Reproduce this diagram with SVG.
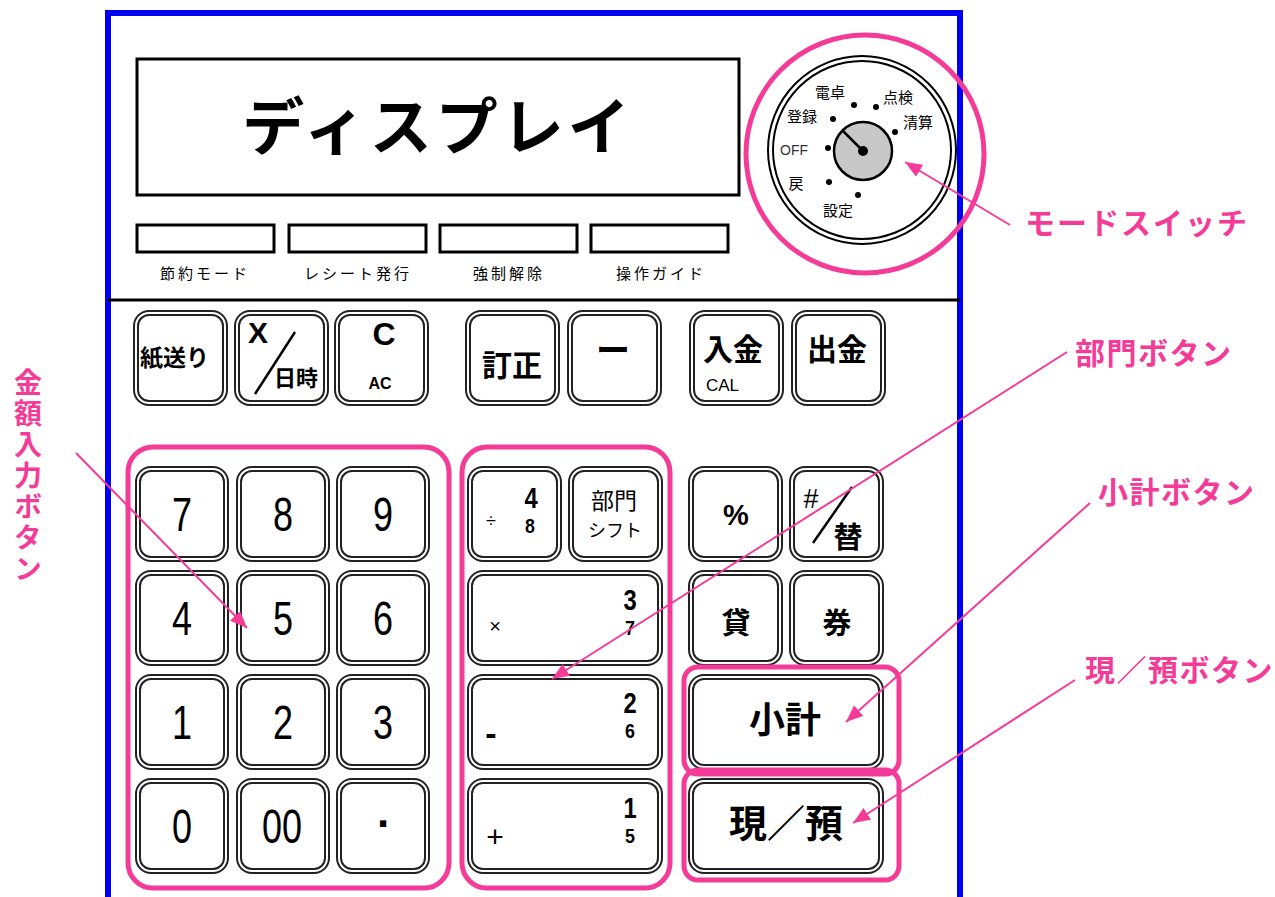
<svg xmlns="http://www.w3.org/2000/svg" width="1275" height="897" viewBox="0 0 1275 897">
<defs>
<style>
.jp{font-family:"Noto Sans CJK JP","Noto Sans",sans-serif}
.la{font-family:"Liberation Sans",Arial,sans-serif}
.b{font-weight:bold}
.k{fill:#fff;stroke:#222;stroke-width:6}
.ki{fill:none;stroke:#fff;stroke-width:2}
.pk{fill:none;stroke:#f53b98;stroke-width:5}
.pl{stroke:#f53b98;stroke-width:2;fill:none}
.pt{fill:#f53b98;font-family:"Noto Sans CJK JP",sans-serif;font-weight:bold;font-size:30px}
.mid{text-anchor:middle}
.ind{fill:#fff;stroke:#000;stroke-width:3}
</style>
<marker id="ah" markerUnits="userSpaceOnUse" markerWidth="18" markerHeight="14" refX="17" refY="7" orient="auto">
<path d="M0,0 L17,7 L0,14 z" fill="#f53b98"/>
</marker>
</defs>
<rect width="1275" height="897" fill="#fff"/>

<g id="frame">
<rect x="108" y="13" width="852" height="900" fill="#fff" stroke="#0000f0" stroke-width="6"/>
<line x1="108" y1="300" x2="960" y2="300" stroke="#000" stroke-width="3"/>
</g>

<g id="display">
<rect x="137" y="59" width="602" height="136" fill="#fff" stroke="#000" stroke-width="3"/>
<text class="jp b mid" x="438" y="150" font-size="62" letter-spacing="4">ディスプレイ</text>
</g>

<g id="indicators">
<rect class="ind" x="137" y="225" width="137" height="27"/>
<rect class="ind" x="289" y="225" width="137" height="27"/>
<rect class="ind" x="440" y="225" width="137" height="27"/>
<rect class="ind" x="591" y="225" width="137" height="27"/>
<text class="jp mid" x="205" y="279" font-size="15" letter-spacing="3">節約モード</text>
<text class="jp mid" x="358" y="279" font-size="15" letter-spacing="3">レシート発行</text>
<text class="jp mid" x="509" y="279" font-size="15" letter-spacing="3">強制解除</text>
<text class="jp mid" x="661" y="279" font-size="15" letter-spacing="3">操作ガイド</text>
</g>

<g id="mode-switch">
<circle cx="862" cy="150" r="94" fill="#fff" stroke="#000" stroke-width="2"/>
<circle cx="862" cy="150" r="89" fill="none" stroke="#000" stroke-width="2"/>
<circle cx="863" cy="151" r="29" fill="#c8c8c8" stroke="#000" stroke-width="2.5"/>
<line x1="863" y1="151" x2="842" y2="130" stroke="#000" stroke-width="2.5"/>
<circle cx="863" cy="151" r="5" fill="#000"/>
<g fill="#000">
<circle cx="854" cy="105" r="3"/>
<circle cx="876" cy="107" r="3"/>
<circle cx="833" cy="119" r="3"/>
<circle cx="895" cy="132" r="3"/>
<circle cx="828" cy="148" r="3"/>
<circle cx="829" cy="182" r="3"/>
<circle cx="858" cy="195" r="3"/>
</g>
<g class="jp mid" font-size="15">
<text x="830" y="98">電卓</text>
<text x="898" y="103">点検</text>
<text x="802" y="122">登録</text>
<text x="918" y="128">清算</text>
<text x="794" y="155" class="la" font-size="14" fill="#333">OFF</text>
<text x="796" y="189">戻</text>
<text x="838" y="216">設定</text>
</g>
<circle class="pk" cx="865" cy="154" r="119"/>
</g>

<g id="key-kamiokuri"><rect class="k" x="136" y="313" width="89" height="90" rx="13"/><rect class="ki" x="136" y="313" width="89" height="90" rx="13"/>
<text class="jp b" x="140" y="366" font-size="23">紙送り</text></g>
<g id="key-x"><rect class="k" x="237" y="313" width="89" height="90" rx="13"/><rect class="ki" x="237" y="313" width="89" height="90" rx="13"/>
<text class="la b mid" x="258" y="343" font-size="30">X</text>
<line x1="255" y1="394" x2="295" y2="332" stroke="#000" stroke-width="2.5"/>
<text class="jp b mid" x="296" y="386" font-size="22">日時</text></g>
<g id="key-c"><rect class="k" x="337" y="313" width="89" height="90" rx="13"/><rect class="ki" x="337" y="313" width="89" height="90" rx="13"/>
<text class="la b mid" x="384" y="345" font-size="32">C</text>
<text class="la b mid" x="380" y="389" font-size="16">AC</text></g>
<g id="key-teisei"><rect class="k" x="468" y="313" width="89" height="90" rx="13"/><rect class="ki" x="468" y="313" width="89" height="90" rx="13"/>
<text class="jp b mid" x="512" y="376" font-size="30">訂正</text></g>
<g id="key-minus"><rect class="k" x="570" y="313" width="89" height="90" rx="13"/><rect class="ki" x="570" y="313" width="89" height="90" rx="13"/>
<text class="jp b mid" x="613" y="363" font-size="34">ー</text></g>
<g id="key-nyukin"><rect class="k" x="692" y="313" width="89" height="90" rx="13"/><rect class="ki" x="692" y="313" width="89" height="90" rx="13"/>
<text class="jp b mid" x="733" y="360" font-size="30">入金</text>
<text class="la" x="706" y="391" font-size="17">CAL</text></g>
<g id="key-shukkin"><rect class="k" x="794" y="313" width="89" height="90" rx="13"/><rect class="ki" x="794" y="313" width="89" height="90" rx="13"/>
<text class="jp b mid" x="837" y="360" font-size="30">出金</text></g>

<g id="num-keys">
<g id="key-7"><rect class="k" x="138" y="469" width="88" height="90" rx="13"/><rect class="ki" x="138" y="469" width="88" height="90" rx="13"/>
<text class="la mid" font-size="48" transform="translate(182,531) scale(0.75,1)">7</text></g>
<g id="key-8"><rect class="k" x="239" y="469" width="88" height="90" rx="13"/><rect class="ki" x="239" y="469" width="88" height="90" rx="13"/>
<text class="la mid" font-size="48" transform="translate(283,531) scale(0.75,1)">8</text></g>
<g id="key-9"><rect class="k" x="339" y="469" width="88" height="90" rx="13"/><rect class="ki" x="339" y="469" width="88" height="90" rx="13"/>
<text class="la mid" font-size="48" transform="translate(383,531) scale(0.75,1)">9</text></g>
<g id="key-4"><rect class="k" x="138" y="573" width="88" height="90" rx="13"/><rect class="ki" x="138" y="573" width="88" height="90" rx="13"/>
<text class="la mid" font-size="48" transform="translate(182,635) scale(0.75,1)">4</text></g>
<g id="key-5"><rect class="k" x="239" y="573" width="88" height="90" rx="13"/><rect class="ki" x="239" y="573" width="88" height="90" rx="13"/>
<text class="la mid" font-size="48" transform="translate(283,635) scale(0.75,1)">5</text></g>
<g id="key-6"><rect class="k" x="339" y="573" width="88" height="90" rx="13"/><rect class="ki" x="339" y="573" width="88" height="90" rx="13"/>
<text class="la mid" font-size="48" transform="translate(383,635) scale(0.75,1)">6</text></g>
<g id="key-1"><rect class="k" x="138" y="677" width="88" height="90" rx="13"/><rect class="ki" x="138" y="677" width="88" height="90" rx="13"/>
<text class="la mid" font-size="48" transform="translate(182,739) scale(0.75,1)">1</text></g>
<g id="key-2"><rect class="k" x="239" y="677" width="88" height="90" rx="13"/><rect class="ki" x="239" y="677" width="88" height="90" rx="13"/>
<text class="la mid" font-size="48" transform="translate(283,739) scale(0.75,1)">2</text></g>
<g id="key-3"><rect class="k" x="339" y="677" width="88" height="90" rx="13"/><rect class="ki" x="339" y="677" width="88" height="90" rx="13"/>
<text class="la mid" font-size="48" transform="translate(383,739) scale(0.75,1)">3</text></g>
<g id="key-0"><rect class="k" x="138" y="781" width="88" height="90" rx="13"/><rect class="ki" x="138" y="781" width="88" height="90" rx="13"/>
<text class="la mid" font-size="48" transform="translate(182,843) scale(0.75,1)">0</text></g>
<g id="key-00"><rect class="k" x="239" y="781" width="88" height="90" rx="13"/><rect class="ki" x="239" y="781" width="88" height="90" rx="13"/>
<text class="la mid" font-size="48" transform="translate(282,843) scale(0.75,1)">00</text></g>
<g id="key-dot"><rect class="k" x="339" y="781" width="88" height="90" rx="13"/><rect class="ki" x="339" y="781" width="88" height="90" rx="13"/>
<text class="la b mid" font-size="44" x="383" y="827">.</text></g>
</g>

<g id="dept-keys">
<g id="key-div4"><rect class="k" x="470" y="469" width="89" height="90" rx="13"/><rect class="ki" x="470" y="469" width="89" height="90" rx="13"/>
<text class="la b mid" font-size="29" transform="translate(531,508) scale(0.82,1)">4</text>
<text class="la b mid" font-size="21" transform="translate(530,533) scale(0.85,1)">8</text>
<text class="la mid" font-size="18" x="491" y="527">÷</text></g>
<g id="key-bumon-shift"><rect class="k" x="571" y="469" width="89" height="90" rx="13"/><rect class="ki" x="571" y="469" width="89" height="90" rx="13"/>
<text class="jp mid" font-size="23" x="614" y="509">部門</text>
<text class="jp mid" font-size="18" x="615" y="537">シフト</text></g>
<g id="key-mul3"><rect class="k" x="470" y="573" width="190" height="90" rx="13"/><rect class="ki" x="470" y="573" width="190" height="90" rx="13"/>
<text class="la b mid" font-size="29" transform="translate(630,610) scale(0.82,1)">3</text>
<text class="la b mid" font-size="21" transform="translate(630,635) scale(0.85,1)">7</text>
<text class="la mid" font-size="20" x="495" y="633">×</text></g>
<g id="key-sub2"><rect class="k" x="470" y="677" width="190" height="90" rx="13"/><rect class="ki" x="470" y="677" width="190" height="90" rx="13"/>
<text class="la b mid" font-size="29" transform="translate(630,713) scale(0.82,1)">2</text>
<text class="la b mid" font-size="21" transform="translate(630,738) scale(0.85,1)">6</text>
<text class="la b mid" font-size="34" x="491" y="745">-</text></g>
<g id="key-add1"><rect class="k" x="470" y="781" width="190" height="90" rx="13"/><rect class="ki" x="470" y="781" width="190" height="90" rx="13"/>
<text class="la b mid" font-size="29" transform="translate(630,818) scale(0.82,1)">1</text>
<text class="la b mid" font-size="21" transform="translate(630,843) scale(0.85,1)">5</text>
<text class="la mid" font-size="30" x="495" y="847">+</text></g>
</g>

<g id="func-keys">
<g id="key-percent"><rect class="k" x="691" y="469" width="89" height="90" rx="13"/><rect class="ki" x="691" y="469" width="89" height="90" rx="13"/>
<text class="la b mid" font-size="29" x="736" y="525">%</text></g>
<g id="key-hash"><rect class="k" x="792" y="469" width="89" height="90" rx="13"/><rect class="ki" x="792" y="469" width="89" height="90" rx="13"/>
<text class="la mid" font-size="27" x="811" y="508">#</text>
<line x1="813" y1="543" x2="852" y2="487" stroke="#000" stroke-width="2.5"/>
<text class="jp b mid" font-size="29" x="848" y="548">替</text></g>
<g id="key-kashi"><rect class="k" x="691" y="573" width="89" height="90" rx="13"/><rect class="ki" x="691" y="573" width="89" height="90" rx="13"/>
<text class="jp b mid" font-size="29" x="736" y="634">貸</text></g>
<g id="key-ken"><rect class="k" x="792" y="573" width="89" height="90" rx="13"/><rect class="ki" x="792" y="573" width="89" height="90" rx="13"/>
<text class="jp b mid" font-size="29" x="837" y="634">券</text></g>
<g id="key-shokei"><rect class="k" x="691" y="677" width="190" height="90" rx="13"/><rect class="ki" x="691" y="677" width="190" height="90" rx="13"/>
<text class="jp b mid" font-size="36" x="785" y="733">小計</text></g>
<g id="key-genazu"><rect class="k" x="691" y="781" width="190" height="90" rx="13"/><rect class="ki" x="691" y="781" width="190" height="90" rx="13"/>
<text class="jp b mid" font-size="38" x="786" y="837">現／預</text></g>
</g>

<g id="highlights">
<rect class="pk" x="128" y="447" width="321" height="441" rx="25"/>
<rect class="pk" x="462" y="447" width="208" height="441" rx="25"/>
<rect class="pk" x="684" y="667" width="215" height="107" rx="14"/>
<rect class="pk" x="684" y="770" width="215" height="110" rx="14"/>
</g>

<g id="connectors">
<line class="pl" x1="1010" y1="225" x2="905" y2="162" marker-end="url(#ah)"/>
<line class="pl" x1="1067" y1="352" x2="552" y2="679" marker-end="url(#ah)"/>
<line class="pl" x1="1090" y1="503" x2="846" y2="722" marker-end="url(#ah)"/>
<line class="pl" x1="1075" y1="680" x2="853" y2="823" marker-end="url(#ah)"/>
<line class="pl" x1="76" y1="453" x2="247" y2="628" marker-end="url(#ah)"/>
</g>

<g id="labels">
<text class="pt" x="1025" y="234" letter-spacing="2">モードスイッチ</text>
<text class="pt" x="1075" y="364" letter-spacing="1.5">部門ボタン</text>
<text class="pt" x="1098" y="503" letter-spacing="1.5">小計ボタン</text>
<text class="pt" x="1085" y="681" letter-spacing="1.5">現／預ボタン</text>
<text class="pt" x="28" y="368" style="font-size:28px;writing-mode:vertical-rl" letter-spacing="3">金額入力ボタン</text>
</g>
</svg>
